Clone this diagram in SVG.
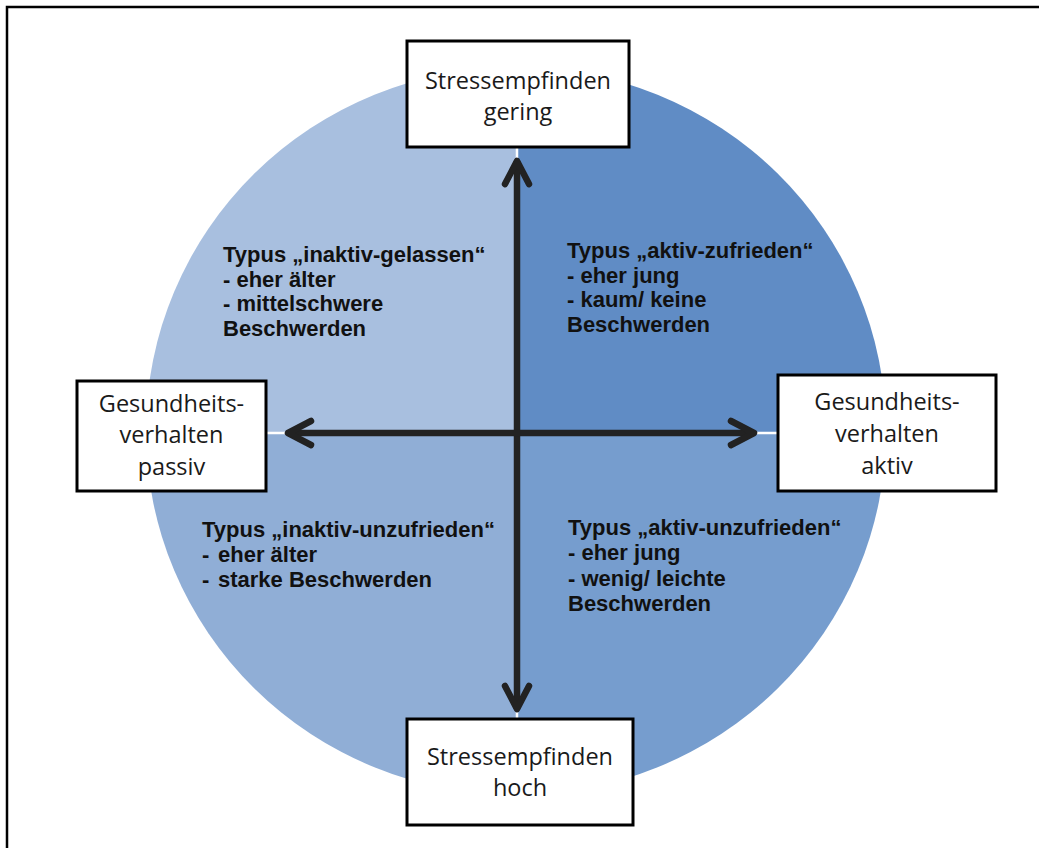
<svg xmlns="http://www.w3.org/2000/svg" width="1039" height="848" viewBox="0 0 1039 848">
<style>
.box{fill:#fff;stroke:#000;stroke-width:3}
.bt{font-family:"Open Sans","Noto Sans",sans-serif;font-size:23.5px;fill:#1a1a1a;text-anchor:middle}
.qt{font-family:"Liberation Sans",Arial,sans-serif;font-size:22px;font-weight:bold;fill:#111}
.axis{stroke:#222;stroke-width:6.5;fill:none;marker-start:url(#chev);marker-end:url(#chev)}
.sep{stroke:#fff;stroke-width:2.5}
</style>
<defs>
<marker id="chev" markerUnits="userSpaceOnUse" orient="auto-start-reverse" refX="0" refY="0" markerWidth="40" markerHeight="40" viewBox="-30 -20 40 40" overflow="visible">
<path d="M-23,-12 L0,0 L-23,12" fill="none" stroke="#222" stroke-width="6.5" stroke-linecap="round" stroke-linejoin="round"/>
</marker>
<clipPath id="qtl"><rect x="0" y="0" width="517" height="433"/></clipPath>
<clipPath id="qtr"><rect x="517" y="0" width="522" height="433"/></clipPath>
<clipPath id="qbl"><rect x="0" y="433" width="517" height="415"/></clipPath>
<clipPath id="qbr"><rect x="517" y="433" width="522" height="415"/></clipPath>
</defs>
<rect x="0" y="0" width="1039" height="848" fill="#fff"/>
<path d="M7,848 V7 H1039" fill="none" stroke="#000" stroke-width="2.5"/>
<g id="circle">
<ellipse cx="516" cy="431" rx="370" ry="364" fill="#A8BFDF" clip-path="url(#qtl)"/>
<ellipse cx="516" cy="431" rx="370" ry="364" fill="#608CC5" clip-path="url(#qtr)"/>
<ellipse cx="516" cy="431" rx="370" ry="364" fill="#90AED6" clip-path="url(#qbl)"/>
<ellipse cx="516" cy="431" rx="370" ry="364" fill="#769DCE" clip-path="url(#qbr)"/>
<line class="sep" x1="517" y1="60" x2="517" y2="800"/>
<line class="sep" x1="140" y1="433" x2="890" y2="433"/>
</g>
<g id="connectors">
<line class="axis" x1="517" y1="161" x2="517" y2="709"/>
<line class="axis" x1="288" y1="433" x2="754" y2="433"/>
</g>
<g id="q-tl">
<text class="qt" x="223" y="262">Typus „inaktiv-gelassen“</text>
<text class="qt" x="223" y="287">- eher älter</text>
<text class="qt" x="223" y="311">- mittelschwere</text>
<text class="qt" x="223" y="336">Beschwerden</text>
</g>
<g id="q-tr">
<text class="qt" x="567" y="258">Typus „aktiv-zufrieden“</text>
<text class="qt" x="567" y="283">- eher jung</text>
<text class="qt" x="567" y="307">- kaum/ keine</text>
<text class="qt" x="567" y="332">Beschwerden</text>
</g>
<g id="q-bl">
<text class="qt" x="202" y="537">Typus „inaktiv-unzufrieden“</text>
<text class="qt" y="562"><tspan x="202">-</tspan><tspan x="218">eher älter</tspan></text>
<text class="qt" y="587"><tspan x="202">-</tspan><tspan x="218">starke Beschwerden</tspan></text>
</g>
<g id="q-br">
<text class="qt" x="568" y="535">Typus „aktiv-unzufrieden“</text>
<text class="qt" x="568" y="560">- eher jung</text>
<text class="qt" x="568" y="586">- wenig/ leichte</text>
<text class="qt" x="568" y="611">Beschwerden</text>
</g>
<g id="n-top">
<rect class="box" x="407" y="41" width="222" height="106"/>
<text class="bt" x="518" y="89">Stressempfinden</text>
<text class="bt" x="518" y="120">gering</text>
</g>
<g id="n-left">
<rect class="box" x="77" y="381" width="189" height="110"/>
<text class="bt" x="171.5" y="412">Gesundheits-</text>
<text class="bt" x="171.5" y="443">verhalten</text>
<text class="bt" x="171.5" y="475">passiv</text>
</g>
<g id="n-right">
<rect class="box" x="778" y="375" width="218" height="116"/>
<text class="bt" x="887" y="410">Gesundheits-</text>
<text class="bt" x="887" y="442">verhalten</text>
<text class="bt" x="887" y="474">aktiv</text>
</g>
<g id="n-bottom">
<rect class="box" x="407" y="719" width="226" height="106"/>
<text class="bt" x="520" y="765">Stressempfinden</text>
<text class="bt" x="520" y="796">hoch</text>
</g>
</svg>
